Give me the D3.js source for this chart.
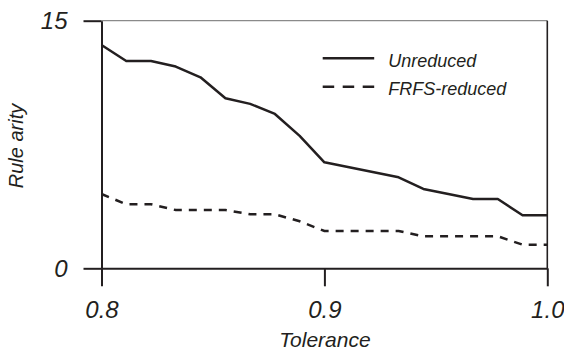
<!DOCTYPE html>
<html>
<head>
<meta charset="utf-8">
<script src="https://cdn.jsdelivr.net/npm/d3@7"></script>
<style>
  body { margin: 0; background: #fff; }
  text { font-family: "Liberation Sans", Arial, sans-serif; font-style: italic; fill: #231f20; }
</style>
</head>
<body>
<div id="chart"></div>
<script>
// tolerance steps: 0.8 .. 1.0 in 18 steps
const tolerance = [0.8, 0.8111, 0.8222, 0.8333, 0.8444, 0.8556, 0.8667, 0.8778, 0.8889, 0.9,
  0.9111, 0.9222, 0.9333, 0.9444, 0.9556, 0.9667, 0.9778, 0.9889, 1.0];
const unreduced = [13.53, 12.56, 12.56, 12.22, 11.57, 10.3, 9.96, 9.35, 8.02, 6.42,
  6.12, 5.82, 5.51, 4.81, 4.5, 4.2, 4.2, 3.21, 3.21];
const frfsReduced = [4.5, 3.88, 3.88, 3.53, 3.53, 3.53, 3.27, 3.27, 2.85, 2.26,
  2.26, 2.26, 2.26, 1.94, 1.94, 1.94, 1.94, 1.43, 1.43];
const xTicks = [0.8, 0.9, 1.0];
const yTicks = [0, 15];
const seriesNames = ["Unreduced", "FRFS-reduced"];

const W = 564, H = 351;
const margin = { top: 20.7, right: 16.7, bottom: 82.7, left: 101.5 };
const width = W - margin.left - margin.right;
const height = H - margin.top - margin.bottom;
const ink = "#231f20";

const svg = d3.select("#chart").append("svg")
  .attr("width", W)
  .attr("height", H);

const g = svg.append("g")
  .attr("transform", `translate(${margin.left},${margin.top})`);

const x = d3.scaleLinear().domain([0.8, 1.0]).range([0, width]);
const y = d3.scaleLinear().domain([0, 15]).range([height, 0]);

// frame: gray top, dark right
g.append("line")
  .attr("x1", 0).attr("x2", width).attr("y1", 0).attr("y2", 0)
  .attr("stroke", "#8a8a8a").attr("stroke-width", 1.2);
g.append("line")
  .attr("x1", width).attr("x2", width).attr("y1", 0).attr("y2", height)
  .attr("stroke", ink).attr("stroke-width", 1.6);

const xAxis = g.append("g")
  .attr("transform", `translate(0,${height})`)
  .call(d3.axisBottom(x).tickValues(xTicks).tickFormat(d3.format(".1f"))
    .tickSize(18).tickSizeOuter(0).tickPadding(15));

const yAxis = g.append("g")
  .call(d3.axisLeft(y).tickValues(yTicks).tickSize(18).tickSizeOuter(0).tickPadding(16));

[xAxis, yAxis].forEach(a => {
  a.select(".domain").attr("stroke", ink).attr("stroke-width", 2);
  a.selectAll(".tick line").attr("stroke", ink).attr("stroke-width", 2);
  a.selectAll(".tick text")
    .style("font-size", "24px")
    .style("font-family", "Liberation Sans, Arial, sans-serif")
    .style("font-style", "italic")
    .attr("fill", ink);
});
yAxis.selectAll(".tick text").attr("dy", "0.34em");

const line = d3.line()
  .x((d, i) => x(tolerance[i]))
  .y(d => y(d));

g.append("path")
  .datum(unreduced)
  .attr("fill", "none")
  .attr("stroke", ink)
  .attr("stroke-width", 2.5)
  .attr("stroke-linejoin", "round")
  .attr("d", line);

g.append("path")
  .datum(frfsReduced)
  .attr("fill", "none")
  .attr("stroke", ink)
  .attr("stroke-width", 2.5)
  .attr("stroke-dasharray", "8,7")
  .attr("d", line);

// legend
const legend = svg.append("g").attr("transform", "translate(322.7,58.3)");
seriesNames.forEach((name, i) => {
  const row = legend.append("g").attr("transform", `translate(0,${i * 28.4})`);
  row.append("line")
    .attr("x1", 0).attr("x2", 51.5).attr("y1", 0).attr("y2", 0)
    .attr("stroke", ink).attr("stroke-width", 2.5)
    .attr("stroke-dasharray", i === 1 ? "11.5,8.5" : null);
  row.append("text")
    .attr("x", 65.5).attr("y", 8.6)
    .style("font-size", "18px")
    .text(name);
});

// axis titles
svg.append("text")
  .attr("x", margin.left + width / 2 + 0.5)
  .attr("y", 346.7)
  .attr("text-anchor", "middle")
  .style("font-size", "21px")
  .text("Tolerance");

svg.append("text")
  .attr("transform", `translate(23,146) rotate(-90)`)
  .attr("text-anchor", "middle")
  .style("font-size", "20px")
  .text("Rule arity");
</script>
</body>
</html>
